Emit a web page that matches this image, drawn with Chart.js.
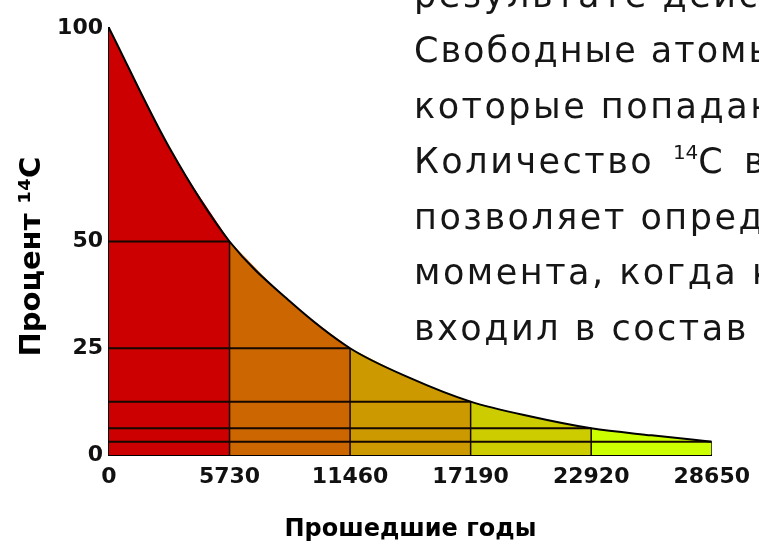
<!DOCTYPE html>
<html>
<head>
<meta charset="utf-8">
<script src="https://cdn.jsdelivr.net/npm/chart.js@4.4.1/dist/chart.umd.min.js"></script>
<style>
  html, body { margin: 0; padding: 0; background: #fff; overflow: hidden; }
  #wrap { position: relative; width: 759px; height: 554px; overflow: hidden; }
  #decay { position: absolute; left: 0; top: 0; }
  .note {
    position: absolute; left: 414px; white-space: nowrap;
    font-family: "DejaVu Sans", Verdana, sans-serif; font-size: 35px; line-height: 35px;
    letter-spacing: 2.5px; color: #161616;
  }
  .note sup { font-size: 20px; vertical-align: 0; position: relative; top: -14px; letter-spacing: 0; }
</style>
</head>
<body>
<div id="wrap">
  <canvas id="decay" width="759" height="554"></canvas>
</div>
<script>
'use strict';

// half-life steps of 14C and the curve
const halfLifeYears = [0, 5730, 11460, 17190, 22920, 28650];
const curveYears = [0, 2865, 5730, 8595, 11460, 14325, 17190, 20055, 22920, 25785, 28650];
const curvePercent = [100, 72, 50, 36, 25, 18, 12.5, 9, 6.25, 4.6, 3.125];
const yTickValues = [0, 25, 50, 100];
const noteLines = [
  'результате действия',
  'Свободные атомы',
  'которые попадают',
  'Количество <sup>14</sup>C в',
  'позволяет определить',
  'момента, когда к',
  'входил в состав',
];
// the source text is justified, so spacing differs a little per line
const noteLetterSpacing = [2.5, 2, 2.5, 2.5, 2.5, 2.5, 2.5];
const noteWordSpacing = [0, 0, 0, 5, 0, 0, 0];

const segmentColors = ['#cc0000', '#cc6600', '#cc9900', '#cccc00', '#ccff00'];

const wrap = document.getElementById('wrap');
noteLines.forEach((html, i) => {
  const el = Object.assign(document.createElement('div'), { className: 'note', innerHTML: html });
  el.style.top = Math.round(7.5 + i * 55.5 - 30) + 'px';
  el.style.letterSpacing = noteLetterSpacing[i] + 'px';
  el.style.wordSpacing = noteWordSpacing[i] + 'px';
  wrap.appendChild(el);
});

const points = curveYears.map((x, i) => ({ x, y: curvePercent[i] }));
const percentAt = year => curvePercent[curveYears.indexOf(year)];

const datasets = [];

// coloured areas, one per half-life
for (let i = 0; i < halfLifeYears.length - 1; i++) {
  datasets.push({
    data: points.filter(p => p.x >= halfLifeYears[i] && p.x <= halfLifeYears[i + 1]),
    backgroundColor: segmentColors[i],
    borderWidth: 0,
    fill: 'origin',
    cubicInterpolationMode: 'monotone',
    pointRadius: 0,
    order: 3,
  });
}

// grid of half-life lines
for (let i = 1; i < halfLifeYears.length; i++) {
  const yr = halfLifeYears[i], p = percentAt(yr);
  datasets.push({
    data: [{ x: 0, y: p }, { x: yr, y: p }],
    borderColor: '#140800', borderWidth: 2, fill: false, pointRadius: 0, order: 2,
  });
  datasets.push({
    data: [{ x: yr, y: p }, { x: yr, y: 0 }],
    borderColor: '#140800', borderWidth: 1.5, fill: false, pointRadius: 0, order: 2,
  });
}

// outline of the curve
datasets.push({
  data: points,
  borderColor: '#000',
  borderWidth: 2,
  fill: false,
  cubicInterpolationMode: 'monotone',
  pointRadius: 0,
  order: 1,
});

const tickFont = { family: 'DejaVu Sans', size: 22, weight: 'bold' };

new Chart('decay', {
  type: 'line',
  data: { datasets },
  options: {
    responsive: false,
    animation: false,
    events: [],
    layout: { padding: { left: 0, right: 44, top: 28, bottom: 0 } },
    plugins: { legend: { display: false }, tooltip: { enabled: false } },
    scales: {
      x: {
        type: 'linear',
        min: 0,
        max: 28650,
        afterBuildTicks: s => { s.ticks = halfLifeYears.map(value => ({ value })); },
        afterFit: s => { s.height = 99; },
        grid: { display: false, drawTicks: false },
        border: { display: true, color: '#000', width: 2 },
        ticks: { font: tickFont, color: '#111', padding: 9, maxRotation: 0, autoSkip: false, callback: v => String(v) },
        title: {
          display: true, text: 'Прошедшие годы', color: '#000',
          font: { family: 'DejaVu Sans', size: 24, weight: 'bold' },
          padding: { top: 0, bottom: 10 },
        },
      },
      y: {
        min: 0,
        max: 100,
        afterBuildTicks: s => { s.ticks = yTickValues.map(value => ({ value })); },
        afterFit: s => { s.width = 109; },
        grid: { display: false, drawTicks: false },
        border: { display: true, color: '#000', width: 2 },
        ticks: { font: tickFont, color: '#111', padding: 6, autoSkip: false, callback: v => String(v) },
        title: {
          display: true, text: 'Процент ¹⁴C\u00a0\u00a0\u00a0', color: '#000',
          font: { family: 'DejaVu Sans', size: 29, weight: 'bold' },
          padding: { top: 15, bottom: 0 },
        },
      },
    },
  },
});
</script>
</body>
</html>
